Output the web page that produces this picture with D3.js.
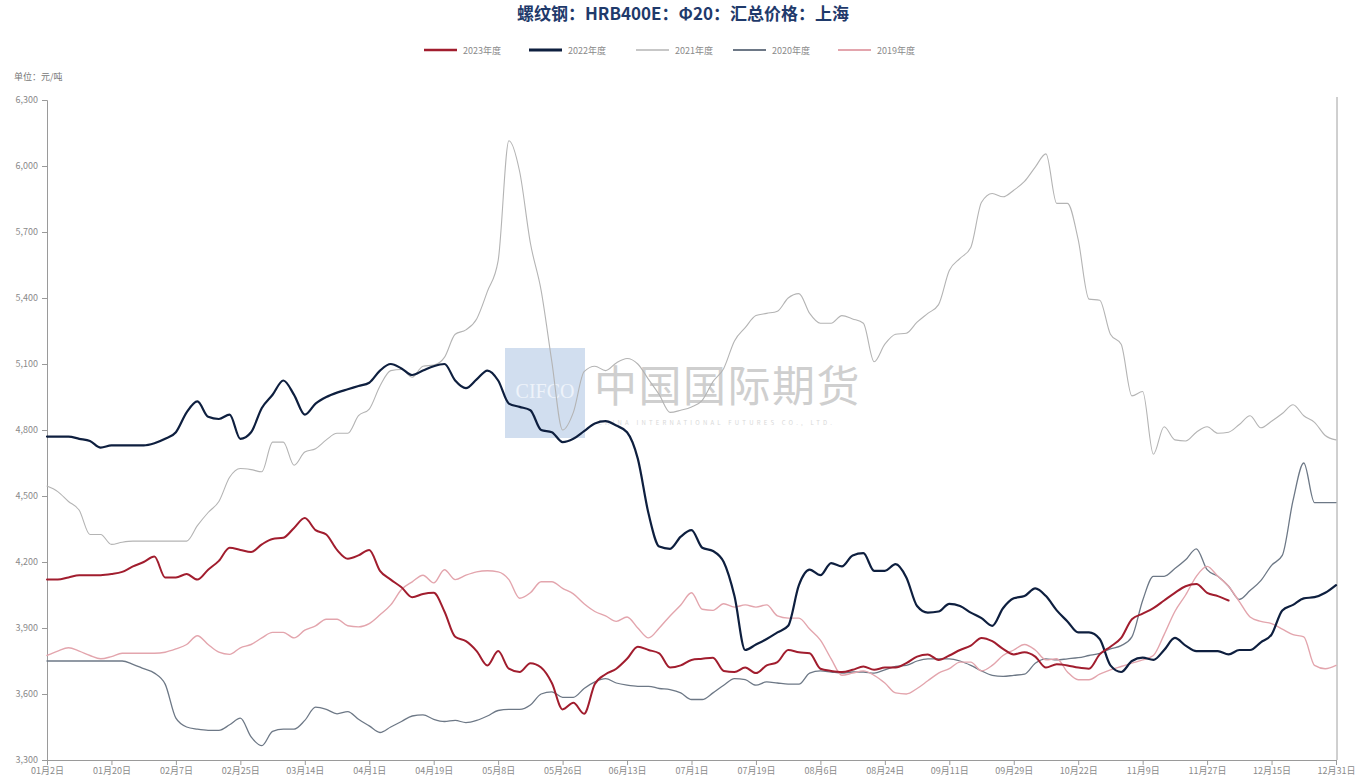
<!DOCTYPE html>
<html><head><meta charset="utf-8">
<script src="https://cdn.jsdelivr.net/npm/d3@7/dist/d3.min.js"></script>
<style>
html,body{margin:0;padding:0;background:#fff;}
svg{display:block;font-family:"Noto Sans CJK SC","Noto Sans",sans-serif;}
</style></head>
<body>
<svg id="chart" width="1360" height="782"></svg>
<script>
const title = "螺纹钢：HRB400E：Φ20：汇总价格：上海";
const unitLabel = "单位：元/吨";
const seriesNames = ["2023年度","2022年度","2021年度","2020年度","2019年度"];
const xTickLabels = ["01月2日","01月20日","02月7日","02月25日","03月14日","04月1日","04月19日","05月8日","05月26日","06月13日","07月1日","07月19日","08月6日","08月24日","09月11日","09月29日","10月22日","11月9日","11月27日","12月15日","12月31日"];
const yTicks = [3300,3600,3900,4200,4500,4800,5100,5400,5700,6000,6300];

const s2023 = [4120,4120,4130,4140,4140,4140,4145,4155,4180,4200,4225,4130,4130,4145,4120,4165,4205,4265,4255,4245,4280,4305,4310,4355,4400,4345,4325,4255,4215,4230,4255,
4160,4120,4085,4040,4055,4060,3975,3860,3840,3795,3730,3795,3715,3700,3740,3720,3650,3530,3560,3510,3645,3690,3715,3760,3815,3800,3785,3720,3730,3755,
3760,3765,3705,3700,3720,3695,3730,3745,3800,3790,3785,3715,3705,3700,3710,3725,3710,3720,3720,3740,3770,3780,3755,3775,3800,3820,3855,3840,3805,3780,
3790,3770,3720,3735,3730,3720,3715,3780,3815,3855,3940,3965,3990,4025,4060,4090,4100,4060,4045,4025,null,null,null,null,null,null,null,null,null,null];

const s2022 = [4770,4770,4770,4760,4750,4720,4730,4730,4730,4730,4740,4760,4790,4880,4930,4860,4850,4870,4760,4790,4900,4960,5025,4960,4870,4920,4950,4970,4985,5000,5015,
5070,5100,5080,5050,5070,5090,5100,5025,4990,5030,5070,5025,4920,4905,4890,4800,4790,4745,4760,4795,4830,4840,4820,4790,4670,4420,4270,4260,4315,4345,
4265,4250,4200,4045,3800,3825,3850,3880,3910,4095,4165,4140,4195,4180,4230,4240,4160,4160,4190,4130,4000,3970,3975,4010,4000,3970,3945,3910,3990,4035,
4045,4080,4045,3980,3930,3880,3880,3850,3730,3700,3750,3765,3755,3800,3855,3820,3795,3795,3795,3780,3800,3800,3835,3870,3980,4005,4035,4040,4060,4095];

const s2021 = [4545,4520,4475,4435,4325,4325,4280,4290,4295,4295,4295,4295,4295,4295,4365,4425,4475,4585,4625,4620,4610,4745,4745,4640,4700,4715,4755,4785,4785,4865,4895,
5000,5070,5075,5040,5090,5095,5130,5235,5255,5305,5430,5570,6115,5975,5650,5435,5110,4800,4880,5065,5090,5070,5105,5125,5100,5030,4960,4880,4890,4905,
4935,5020,5080,5205,5265,5320,5330,5340,5400,5420,5330,5285,5285,5320,5305,5285,5110,5190,5235,5240,5290,5330,5370,5525,5580,5630,5835,5875,5860,5890,
5930,5995,6055,5830,5830,5665,5395,5390,5235,5190,4955,4975,4690,4815,4755,4750,4790,4815,4785,4790,4825,4865,4810,4840,4875,4915,4865,4835,4775,4755];

const s2020 = [3750,3750,3750,3750,3750,3750,3750,3750,3735,3715,3695,3645,3490,3450,3440,3435,3435,3460,3490,3405,3365,3430,3440,3440,3480,3540,3530,3510,3520,3485,3455,
3425,3450,3475,3500,3505,3485,3475,3480,3470,3480,3500,3525,3530,3530,3550,3600,3610,3585,3585,3625,3655,3670,3650,3640,3635,3635,3625,3620,3605,3575,
3575,3605,3640,3670,3665,3640,3655,3650,3645,3645,3695,3705,3700,3695,3700,3700,3695,3710,3725,3730,3750,3760,3760,3760,3750,3730,3705,3685,3680,3685,
3690,3740,3760,3755,3760,3765,3775,3785,3805,3820,3860,4025,4135,4135,4170,4210,4260,4165,4135,4090,4030,4070,4115,4185,4230,4480,4650,4470,4470,4470];

const s2019 = [3775,3795,3810,3795,3775,3760,3770,3785,3785,3785,3785,3790,3805,3825,3865,3825,3790,3780,3810,3825,3855,3880,3880,3855,3890,3910,3940,3940,3910,3905,3920,
3960,4005,4075,4110,4140,4105,4165,4120,4140,4155,4160,4155,4120,4035,4060,4110,4110,4080,4055,4010,3975,3955,3930,3950,3900,3855,3900,3955,4005,4060,
3985,3980,4010,3995,4005,3995,4005,3955,3945,3945,3895,3845,3760,3685,3695,3705,3685,3650,3605,3600,3625,3660,3695,3715,3745,3745,3705,3730,3775,3800,
3825,3800,3755,3760,3700,3665,3665,3690,3710,3725,3740,3755,3775,3870,3975,4050,4135,4180,4135,4090,4020,3950,3930,3920,3895,3870,3860,3730,3715,3730];

const seriesData = [s2023, s2022, s2021, s2020, s2019];
const seriesColors = ["#a11d2e","#0e1f3f","#b4b4b4","#6d7886","#e3a5ad"];
const seriesWidths = [2, 2.2, 1.1, 1.3, 1.4];

const svg = d3.select("#chart");
const W = 1360, H = 782;
const plotL = 47, plotR = 1336, plotT = 100, plotB = 760;
const nPts = s2022.length;
const x = d3.scaleLinear().domain([0, nPts - 1]).range([plotL, plotR]);
const y = d3.scaleLinear().domain([3300, 6300]).range([plotB, plotT]);
const step = (nPts - 1) / (xTickLabels.length - 1);
const xTickIdx = xTickLabels.map((d, i) => i * step);

svg.append("rect").attr("width", W).attr("height", H).attr("fill", "#ffffff");

// watermark
const wm = svg.append("g").attr("class", "watermark");
wm.append("rect").attr("x", 505).attr("y", 348).attr("width", 80).attr("height", 90)
  .attr("fill", "#c9d8ec").attr("opacity", 0.85);
wm.append("text").attr("x", 545).attr("y", 398).attr("text-anchor", "middle")
  .attr("font-size", 20).attr("font-family", "Liberation Serif, serif").attr("fill", "#eef3fa").text("CIFCO");
wm.append("text").attr("x", 594).attr("y", 402).attr("font-size", 43)
  .attr("fill", "#cfcfcf").attr("letter-spacing", 1.5).text("中国国际期货");
wm.append("text").attr("x", 598).attr("y", 425).attr("font-size", 6)
  .attr("fill", "#d8d8d8").attr("letter-spacing", 3.2).text("CHINA INTERNATIONAL FUTURES CO., LTD.");

// title
svg.append("text").attr("x", 683).attr("y", 20).attr("text-anchor", "middle")
  .attr("font-size", 17).attr("font-weight", "bold").attr("fill", "#1f3a6b").text(title);

// legend
const legendX = [424, 529, 636, 733, 838];
const lg = svg.append("g").attr("class", "legend");
seriesNames.forEach((name, i) => {
  lg.append("line").attr("x1", legendX[i]).attr("x2", legendX[i] + 33)
    .attr("y1", 50).attr("y2", 50).attr("stroke", seriesColors[i]).attr("stroke-width", seriesWidths[i] + 0.6);
  lg.append("text").attr("x", legendX[i] + 39).attr("y", 53.5).attr("font-size", 9)
    .attr("fill", "#8a8a8a").text(name);
});

// unit
svg.append("text").attr("x", 14).attr("y", 80).attr("font-size", 9).attr("fill", "#777").text(unitLabel);

// axes
const yAxis = svg.append("g").attr("transform", `translate(${plotL},0)`)
  .call(d3.axisLeft(y).tickValues(yTicks).tickFormat(d3.format(",")).tickSize(5).tickPadding(4));
const xAxis = svg.append("g").attr("transform", `translate(0,${plotB})`)
  .call(d3.axisBottom(x).tickValues(xTickIdx).tickFormat((d, i) => xTickLabels[i]).tickSize(5).tickPadding(3));
[yAxis, xAxis].forEach(a => {
  a.select(".domain").attr("stroke", "#9a9a9a");
  a.selectAll(".tick line").attr("stroke", "#9a9a9a");
  a.selectAll(".tick text").attr("fill", "#8a8a8a").attr("font-size", 9)
    .attr("font-family", "Noto Sans CJK SC, sans-serif");
});
svg.append("line").attr("x1", plotR + 1).attr("x2", plotR + 1).attr("y1", plotT - 3).attr("y2", plotB)
  .attr("stroke", "#a0a0a0").attr("stroke-width", 1);

// lines (draw back-to-front)
const line = d3.line().defined(d => d != null).x((d, i) => x(i)).y(d => y(d)).curve(d3.curveMonotoneX);
const order = [2, 3, 4, 1, 0];
order.forEach(k => {
  svg.append("path").datum(seriesData[k])
    .attr("fill", "none").attr("stroke", seriesColors[k]).attr("stroke-width", seriesWidths[k])
    .attr("stroke-linejoin", "round").attr("stroke-linecap", "round")
    .attr("d", line);
});
</script>
</body></html>
